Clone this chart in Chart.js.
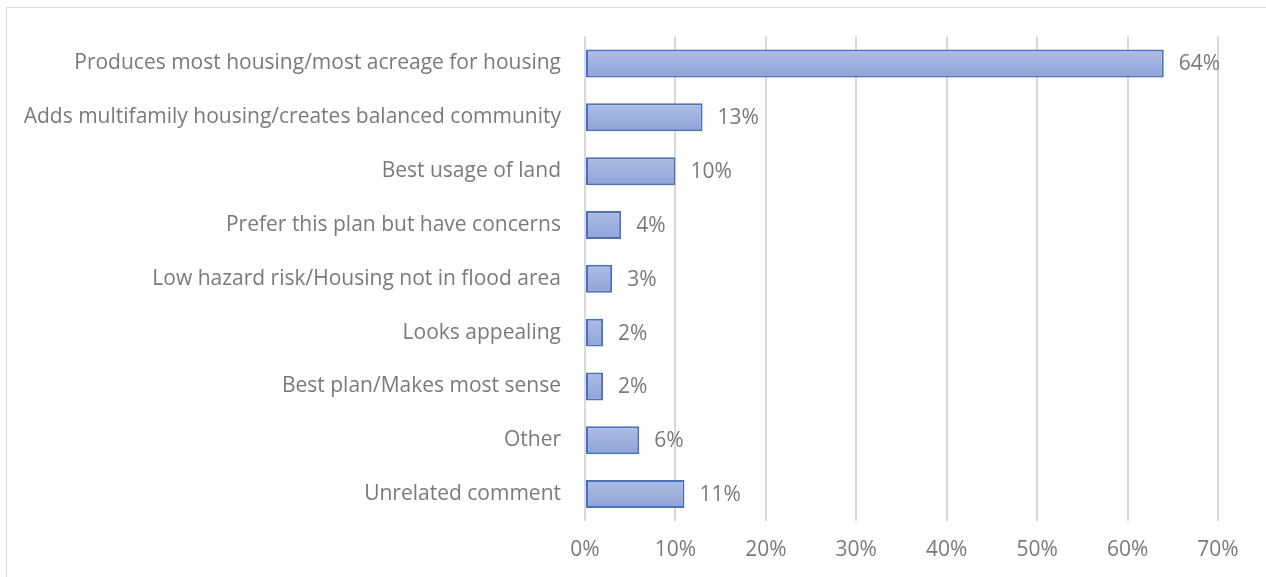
<!DOCTYPE html>
<html>
<head>
<meta charset="utf-8">
<script src="https://cdn.jsdelivr.net/npm/chart.js@4"></script>
<style>
  html, body { margin: 0; padding: 0; background: #fff; }
  #wrap { position: relative; width: 1266px; height: 577px; overflow: hidden; }
  #frame { position: absolute; left: 6px; top: 7px; width: 1300px; height: 600px; border: 1px solid #d9d9d9; }
  canvas { position: absolute; left: 0; top: 0; }
</style>
</head>
<body>
<div id="wrap">
  <div id="frame"></div>
  <canvas id="chart" width="1266" height="577"></canvas>
</div>
<script>
const categories = [
  'Produces most housing/most acreage for housing',
  'Adds multifamily housing/creates balanced community',
  'Best usage of land',
  'Prefer this plan but have concerns',
  'Low hazard risk/Housing not in flood area',
  'Looks appealing',
  'Best plan/Makes most sense',
  'Other',
  'Unrelated comment'
];
const shares = [64, 13, 10, 4, 3, 2, 2, 6, 11];
const tickMax = 70;
const tickStep = 10;

const textColor = '#7a7a7a';
const fontFamily = '"Open Sans", sans-serif';
const fontSize = 21;

// vertical gradient per bar, light on top
function barFill(ctx) {
  const chart = ctx.chart;
  const y = chart.scales.y;
  if (!y || ctx.dataIndex === undefined) return '#9fb0dd';
  const c = y.getPixelForValue(ctx.dataIndex);
  if (!isFinite(c)) return '#9fb0dd';
  const g = chart.ctx.createLinearGradient(0, c - 14, 0, c + 14);
  g.addColorStop(0, '#afbde4');
  g.addColorStop(1, '#8ea3d6');
  return g;
}

// value labels to the right of each bar
const valueLabels = {
  id: 'valueLabels',
  afterDatasetsDraw(chart) {
    const ctx = chart.ctx;
    const meta = chart.getDatasetMeta(0);
    ctx.save();
    ctx.fillStyle = textColor;
    ctx.font = fontSize + 'px ' + fontFamily;
    ctx.textAlign = 'left';
    ctx.textBaseline = 'middle';
    meta.data.forEach((bar, i) => {
      ctx.fillText(shares[i] + '%', bar.x + 15, bar.y + 1);
    });
    ctx.restore();
  }
};

new Chart(document.getElementById('chart'), {
  type: 'bar',
  data: {
    labels: categories,
    datasets: [{
      data: shares,
      backgroundColor: barFill,
      borderColor: '#4472c4',
      borderWidth: 2,
      borderSkipped: false,
      categoryPercentage: 1,
      barPercentage: 0.52
    }]
  },
  options: {
    indexAxis: 'y',
    responsive: false,
    animation: false,
    layout: { padding: { top: 36, right: 48, left: 0, bottom: 0 } },
    plugins: { legend: { display: false }, tooltip: { enabled: false } },
    scales: {
      x: {
        min: 0,
        max: tickMax,
        ticks: {
          stepSize: tickStep,
          color: textColor,
          font: { family: fontFamily, size: fontSize },
          padding: 16,
          callback: v => v + '%'
        },
        grid: { color: '#d9d9d9', lineWidth: 2, drawTicks: false },
        border: { display: false },
        afterFit(scale) { scale.height = 56; }
      },
      y: {
        ticks: {
          color: textColor,
          font: { family: fontFamily, size: fontSize },
          padding: 24
        },
        grid: { display: false, drawTicks: false },
        border: { display: false },
        afterFit(scale) { scale.width = 585; }
      }
    }
  },
  plugins: [valueLabels]
});
</script>
</body>
</html>
